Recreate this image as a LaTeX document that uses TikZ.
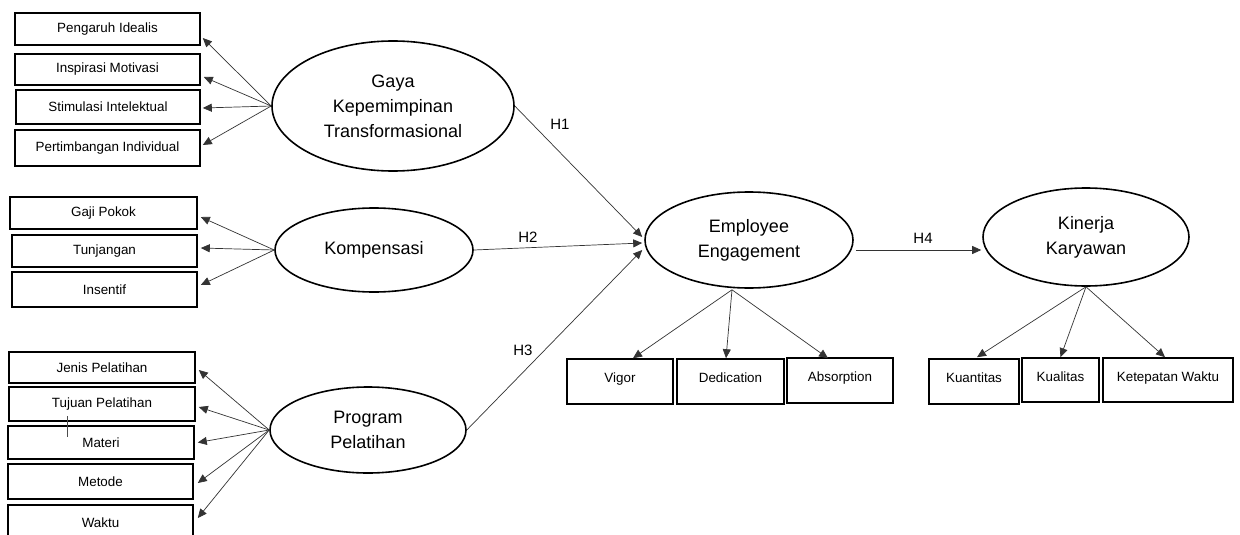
\documentclass[tikz,border=0pt]{standalone}
\usepackage{fontspec}
\setmainfont{Liberation Sans}
\usetikzlibrary{arrows.meta,calc,shapes.geometric}
\begin{document}
\begin{tikzpicture}[x=1pt,y=-1pt,
  ind/.style={draw,line width=1.6pt,inner sep=0pt,font=\fontsize{13.4}{15}\selectfont},
  raised/.style={text height=9.5pt,text depth=7pt},
  lat/.style={draw,ellipse,line width=1.6pt,inner sep=0pt,align=center,font=\fontsize{18}{25}\selectfont},
  arr/.style={-{Triangle[length=9pt,width=8pt]},line width=0.7pt,draw=black!80},
  hyp/.style={font=\fontsize{15}{17}\selectfont,inner sep=0pt}]
\clip (0,0) rectangle (1240,535);
\fill[white] (0,0) rectangle (1240,535);
% Gaya Kepemimpinan Transformasional
\node[ind,minimum width=185pt,minimum height=32pt] (b1) at (107.5,29) {Pengaruh Idealis};
\node[ind,minimum width=185pt,minimum height=31pt] (b2) at (107.5,69.5) {Inspirasi Motivasi};
\node[ind,minimum width=184pt,minimum height=34pt] (b3) at (108,107) {Stimulasi Intelektual};
\node[ind,minimum width=185pt,minimum height=36pt] (b4) at (107.5,148) {Pertimbangan Individual};
\node[lat,minimum width=242pt,minimum height=130pt] (gaya) at (393,106) {Gaya\\Kepemimpinan\\Transformasional};
% Kompensasi
\node[ind,minimum width=187pt,minimum height=32pt] (k1) at (103.5,213) {Gaji Pokok};
\node[ind,minimum width=185pt,minimum height=32pt] (k2) at (104.5,251) {Tunjangan};
\node[ind,minimum width=185pt,minimum height=35pt] (k3) at (104.5,289.5) {Insentif};
\node[lat,minimum width=198pt,minimum height=84pt] (komp) at (374,250) {Kompensasi};
% Program Pelatihan
\node[ind,minimum width=186pt,minimum height=31pt] (p1) at (102,367.5) {Jenis Pelatihan};
\node[ind,minimum width=186pt,minimum height=34pt] (p2) at (102,404) {Tujuan Pelatihan};
\node[ind,minimum width=186pt,minimum height=33pt] (p3) at (101,442.5) {Materi};
\node[ind,minimum width=185pt,minimum height=35pt] (p4) at (100.5,481.5) {Metode};
\node[ind,minimum width=185pt,minimum height=36pt] (p5) at (100.5,523) {Waktu};
\node[lat,minimum width=196pt,minimum height=86pt] (prog) at (368,430) {Program\\Pelatihan};
\draw[line width=0.6pt,black!70] (67,416) -- (67,437);
% Employee Engagement
\node[lat,minimum width=208pt,minimum height=96pt] (ee) at (749,240) {Employee\\Engagement};
\node[ind,raised,minimum width=106pt,minimum height=45pt] (v) at (620,381.5) {Vigor};
\node[ind,raised,minimum width=107pt,minimum height=45pt] (d) at (730.5,381.5) {Dedication};
\node[ind,raised,minimum width=106pt,minimum height=45pt] (a) at (840,380.5) {Absorption};
% Kinerja Karyawan
\node[lat,minimum width=206pt,minimum height=98pt] (kin) at (1086,237) {Kinerja\\Karyawan};
\node[ind,raised,minimum width=90pt,minimum height=45pt] (q1) at (974,381.5) {Kuantitas};
\node[ind,raised,minimum width=77pt,minimum height=44pt] (q2) at (1060.5,380) {Kualitas};
\node[ind,raised,minimum width=130pt,minimum height=44pt] (q3) at (1168,380) {Ketepatan Waktu};
% indicator arrows
\draw[arr] (gaya.west) -- ($(b1.east)+(2,9)$);
\draw[arr] (gaya.west) -- ($(b2.east)+(3,7.5)$);
\draw[arr] (gaya.west) -- ($(b3.east)+(2,1)$);
\draw[arr] (gaya.west) -- ($(b4.east)+(2,-3)$);
\draw[arr] (komp.west) -- ($(k1.east)+(3,4)$);
\draw[arr] (komp.west) -- ($(k2.east)+(3,-3)$);
\draw[arr] (komp.west) -- ($(k3.east)+(3,-4.5)$);
\draw[arr] (prog.west) -- ($(p1.east)+(3,2.5)$);
\draw[arr] (prog.west) -- ($(p2.east)+(3,3)$);
\draw[arr] (prog.west) -- ($(p3.east)+(3,0)$);
\draw[arr] (prog.west) -- ($(p4.east)+(4,1.5)$);
\draw[arr] (prog.west) -- ($(p5.east)+(4,-5)$);
\coordinate (eeb) at ($(ee.south)+(-17,1)$);
\draw[arr] (eeb) -- ($(v.north)+(13,0)$);
\draw[arr] (eeb) -- ($(d.north)+(-4.5,0)$);
\draw[arr] (eeb) -- ($(a.north)+(-12,1)$);
\draw[arr] (kin.south) -- ($(q1.north)+(3,-1)$);
\draw[arr] (kin.south) -- (q2.north);
\draw[arr] (kin.south) -- ($(q3.north)+(-3,0)$);
% hypotheses
\draw[arr] (gaya.east) -- ($(ee.west)+(-2,-3)$);
\draw[arr] (komp.east) -- ($(ee.west)+(-2,3)$);
\draw[arr] (prog.east) -- ($(ee.west)+(-2,10)$);
\draw[arr] ($(ee.east)+(2,10)$) -- ($(kin.west)+(-1,13)$);
\node[hyp] (h1) at (560,124) {H1};
\node[hyp] (h2) at (528,237) {H2};
\node[hyp] (h3) at (523,350) {H3};
\node[hyp] (h4) at (923,238) {H4};
\end{tikzpicture}
\end{document}
